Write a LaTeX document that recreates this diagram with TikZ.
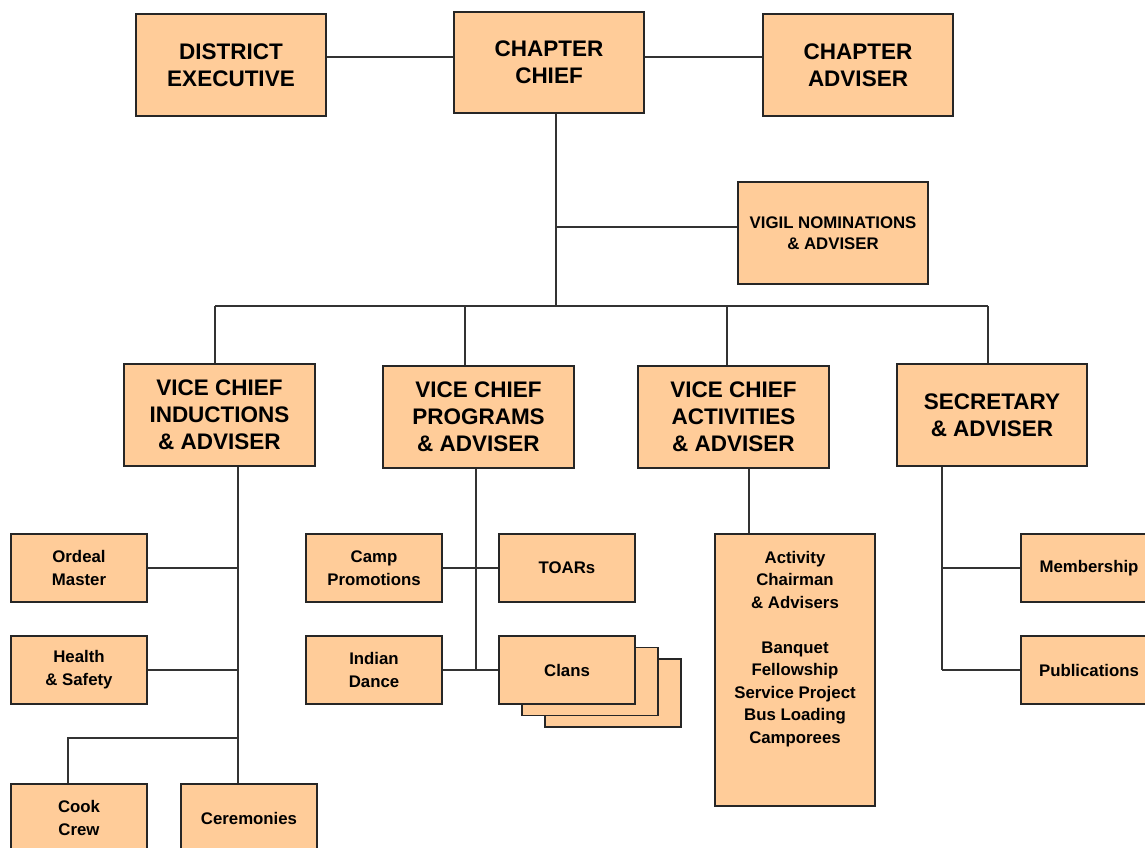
\documentclass[tikz,border=0pt]{standalone}
\usepackage{fontspec}
\setmainfont{Liberation Sans}
\begin{document}
\begin{tikzpicture}[x=1pt,y=-1pt,
  box/.style={draw=black!85,line width=1.6pt,fill=peach,align=center,inner sep=0pt},
  big/.style={box,minimum width=190pt,minimum height=102pt,font=\fontsize{22.5}{27}\selectfont\bfseries},
  small/.style={box,minimum width=136pt,minimum height=68pt,font=\fontsize{16.8}{23}\selectfont\bfseries},
  conn/.style={draw=black!80,line width=1.3pt}]
\definecolor{peach}{HTML}{FFCC99}
\useasboundingbox (0,0) rectangle (1145,848);
% top row
\node[big] (de) at (231,65) {DISTRICT\\EXECUTIVE};
\node[big,minimum height=101pt] (cc) at (549,62.5) {CHAPTER\\CHIEF};
\node[big] (ca) at (858,65) {CHAPTER\\ADVISER};
\node[big,font=\fontsize{16.8}{21}\selectfont\bfseries] (vig) at (833,233) {VIGIL NOMINATIONS\\\& ADVISER};
% vice chiefs
\node[big,minimum width=191pt] (vci) at (219.5,415) {VICE CHIEF\\INDUCTIONS\\\& ADVISER};
\node[big,minimum width=191pt] (vcp) at (478.5,417) {VICE CHIEF\\PROGRAMS\\\& ADVISER};
\node[big,minimum width=191pt] (vca) at (733.5,417) {VICE CHIEF\\ACTIVITIES\\\& ADVISER};
\node[big] (sec) at (992,415) {SECRETARY\\\& ADVISER};
% inductions
\node[small] (om) at (79,568) {Ordeal\\Master};
\node[small] (hs) at (79,670) {Health\\\& Safety};
\node[small] (cook) at (79,818) {Cook\\Crew};
\node[small] (cer) at (249,818) {Ceremonies};
% programs
\node[small] (camp) at (374,568) {Camp\\Promotions};
\node[small] (toars) at (567,568) {TOARs};
\node[small] (ind) at (374,670) {Indian\\Dance};
\node[small] (clans3) at (613,693) {};
\node[small] (clans2) at (590,681.5) {};
\node[small] (clans) at (567,670) {Clans};
% activities
\node[box,minimum width=160pt,minimum height=272pt] (act) at (795,670) {};
\node[font=\fontsize{16.8}{22.5}\selectfont\bfseries,align=center,anchor=north,inner sep=0pt] (actt) at (795,551) {Activity\\Chairman\\\& Advisers\\[22.5pt]Banquet\\Fellowship\\Service Project\\Bus Loading\\Camporees};
% secretary
\node[small] (mem) at (1089,568) {Membership};
\node[small] (pub) at (1089,670) {Publications};
% junction coordinates
\coordinate (ty) at (0,57);
\coordinate (bus) at (556,306);
\coordinate (vy) at (0,227);
\coordinate (d1) at (215,306);
\coordinate (d2) at (465,306);
\coordinate (d3) at (727,306);
\coordinate (d4) at (988,306);
\coordinate (ix) at (238,0);
\coordinate (cj) at (238,738);
\coordinate (cx) at (68,0);
\coordinate (px) at (476,0);
\coordinate (ax) at (749,0);
\coordinate (sx) at (942,0);
% connectors
\draw[conn] (de.east |- ty) -- (cc.west |- ty);
\draw[conn] (cc.east |- ty) -- (ca.west |- ty);
\draw[conn] (cc.south -| bus) -- (bus);
\draw[conn] (bus |- vy) -- (vig.west |- vy);
\draw[conn] (d1) -- (d4);
\draw[conn] (d1) -- (vci.north -| d1);
\draw[conn] (d2) -- (vcp.north -| d2);
\draw[conn] (d3) -- (vca.north -| d3);
\draw[conn] (d4) -- (sec.north -| d4);
% inductions tree
\draw[conn] (vci.south -| ix) -- (cer.north -| ix);
\draw[conn] (om.east) -- (om.east -| ix);
\draw[conn] (hs.east) -- (hs.east -| ix);
\draw[conn] (cj) -- (cj -| cx) -- (cook.north -| cx);
% programs tree
\draw[conn] (vcp.south -| px) -- (clans.west -| px);
\draw[conn] (camp.east) -- (toars.west);
\draw[conn] (ind.east) -- (clans.west);
% activities
\draw[conn] (vca.south -| ax) -- (act.north -| ax);
% secretary tree
\draw[conn] (sec.south -| sx) -- (pub.west -| sx);
\draw[conn] (mem.west -| sx) -- (mem.west);
\draw[conn] (pub.west -| sx) -- (pub.west);
\end{tikzpicture}
\end{document}
